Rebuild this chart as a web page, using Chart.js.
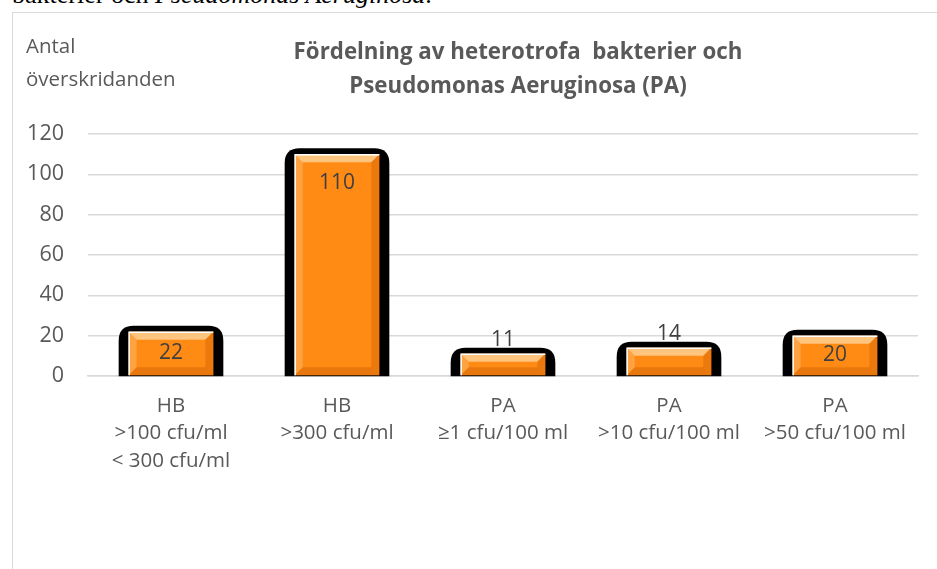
<!DOCTYPE html>
<html><head><meta charset="utf-8">
<script src="https://cdn.jsdelivr.net/npm/chart.js@4"></script>
<style>
html,body{margin:0;padding:0;background:#fff;overflow:hidden;width:937px;height:569px;}
#top{position:absolute;left:12px;top:-18px;font-family:"Liberation Serif",serif;font-size:26px;line-height:1;color:#000;white-space:nowrap;}
#frame{position:absolute;left:12px;top:12px;width:1000px;height:700px;border:1.5px solid #d9d9d9;box-sizing:border-box;}
#wrap{position:absolute;left:0;top:0;width:937px;height:569px;}
</style></head>
<body>
<div id="top">bakterier och <i>Pseudomonas Aeruginosa</i>.</div>
<div id="frame"></div>
<div id="wrap"><canvas id="c" width="937" height="569"></canvas></div>
<script>
const categories = [
  ["HB", ">100 cfu/ml", "< 300 cfu/ml"],
  ["HB", ">300 cfu/ml"],
  ["PA", "≥1 cfu/100 ml"],
  ["PA", ">10 cfu/100 ml"],
  ["PA", ">50 cfu/100 ml"]
];
const values = [22, 110, 11, 14, 20];
const yTicks = [0, 20, 40, 60, 80, 100, 120];
const titleLines = ["Fördelning av heterotrofa  bakterier och", "Pseudomonas Aeruginosa (PA)"];
const yCaption = ["Antal", "överskridanden"];

const FONT = '"Open Sans", sans-serif';
const GREY = '#595959';

function rr(ctx, x, y, w, h, r){
  ctx.beginPath();
  ctx.moveTo(x, y + h);
  ctx.lineTo(x, y + r);
  ctx.quadraticCurveTo(x, y, x + r, y);
  ctx.lineTo(x + w - r, y);
  ctx.quadraticCurveTo(x + w, y, x + w, y + r);
  ctx.lineTo(x + w, y + h);
  ctx.closePath();
}

const decor = {
  id: 'decor',
  beforeDraw(chart){
    const ctx = chart.ctx;
    ctx.save();
    ctx.fillStyle = GREY;
    ctx.font = 'bold 22.3px ' + FONT;
    ctx.textAlign = 'center';
    ctx.textBaseline = 'middle';
    ctx.fillText(titleLines[0], 518, 53);
    ctx.fillText(titleLines[1], 518, 87);
    ctx.font = '20.5px ' + FONT;
    ctx.textAlign = 'left';
    ctx.fillText(yCaption[0], 26, 47);
    ctx.fillText(yCaption[1], 26, 80);
    ctx.restore();
  },
  beforeDatasetsDraw(chart){
    const ctx = chart.ctx;
    const meta = chart.getDatasetMeta(0);
    ctx.save();
    ctx.fillStyle = '#000';
    meta.data.forEach(b => {
      const w = b.width;
      const x0 = b.x - w/2 - 10, x1 = b.x + w/2 + 10;
      const top = b.y - 6;
      rr(ctx, x0, top, x1 - x0, b.base - top + 1, 15);
      ctx.fill();
    });
    ctx.restore();
  },
  afterDatasetsDraw(chart){
    const ctx = chart.ctx;
    const meta = chart.getDatasetMeta(0);
    ctx.save();
    meta.data.forEach((b, i) => {
      const w = b.width, l = b.x - w/2, r = b.x + w/2, t = b.y, bt = b.base;
      const bv = Math.min(8, (bt - t)/2);
      ctx.fillStyle = 'rgba(255,215,160,0.75)';
      ctx.beginPath(); ctx.moveTo(l, t); ctx.lineTo(r, t); ctx.lineTo(r - bv, t + bv); ctx.lineTo(l + bv, t + bv); ctx.closePath(); ctx.fill();
      ctx.fillStyle = 'rgba(255,190,120,0.45)';
      ctx.beginPath(); ctx.moveTo(l, t); ctx.lineTo(l + bv, t + bv); ctx.lineTo(l + bv, bt - bv); ctx.lineTo(l, bt); ctx.closePath(); ctx.fill();
      ctx.fillStyle = 'rgba(200,90,0,0.35)';
      ctx.beginPath(); ctx.moveTo(r, t); ctx.lineTo(r - bv, t + bv); ctx.lineTo(r - bv, bt - bv); ctx.lineTo(r, bt); ctx.closePath(); ctx.fill();
      ctx.fillStyle = 'rgba(190,85,0,0.35)';
      ctx.beginPath(); ctx.moveTo(l, bt); ctx.lineTo(l + bv, bt - bv); ctx.lineTo(r - bv, bt - bv); ctx.lineTo(r, bt); ctx.closePath(); ctx.fill();
      ctx.strokeStyle = '#ffffff';
      ctx.lineWidth = 1.5;
      ctx.beginPath(); ctx.moveTo(l + 0.5, bt); ctx.lineTo(l + 0.5, t + 0.5); ctx.lineTo(r, t + 0.5); ctx.stroke();
      const v = values[i];
      ctx.fillStyle = '#404040';
      ctx.font = '21px ' + FONT;
      ctx.textAlign = 'center';
      ctx.textBaseline = 'middle';
      let ly;
      if (bt - t > 35) ly = t + Math.min(29, Math.max(17, (bt - t) * 0.5));
      else ly = t - 14;
      ctx.fillText(String(v), b.x, ly);
    });
    ctx.restore();
  }
};

const ctx = document.getElementById('c').getContext('2d');

new Chart(ctx, {
  type: 'bar',
  data: {
    labels: categories,
    datasets: [{
      data: values,
      backgroundColor: '#ff8a14',
      borderWidth: 0,
      barPercentage: 0.68,
      categoryPercentage: 0.75
    }]
  },
  options: {
    responsive: false,
    animation: false,
    layout: { padding: { left: 0, top: 134, right: 19, bottom: 0 } },
    plugins: { legend: { display: false }, tooltip: { enabled: false }, title: { display: false } },
    scales: {
      x: {
        grid: { display: false, drawTicks: false },
        border: { color: '#d9d9d9', width: 1.5 },
        ticks: { color: GREY, font: { family: FONT, size: 20.5, lineHeight: 1.34 }, padding: 16, maxRotation: 0, autoSkip: false },
        afterFit(s){ s.height = 569 - 376; }
      },
      y: {
        min: 0, max: 120,
        afterBuildTicks(s){ s.ticks = yTicks.map(v => ({ value: v })); },
        grid: { color: '#d9d9d9', lineWidth: 1.5, drawTicks: false },
        border: { display: false },
        ticks: { color: GREY, font: { family: FONT, size: 21.5 }, padding: 24 },
        afterFit(s){ s.width = 88; }
      }
    }
  },
  plugins: [decor]
});
</script>
</body></html>
